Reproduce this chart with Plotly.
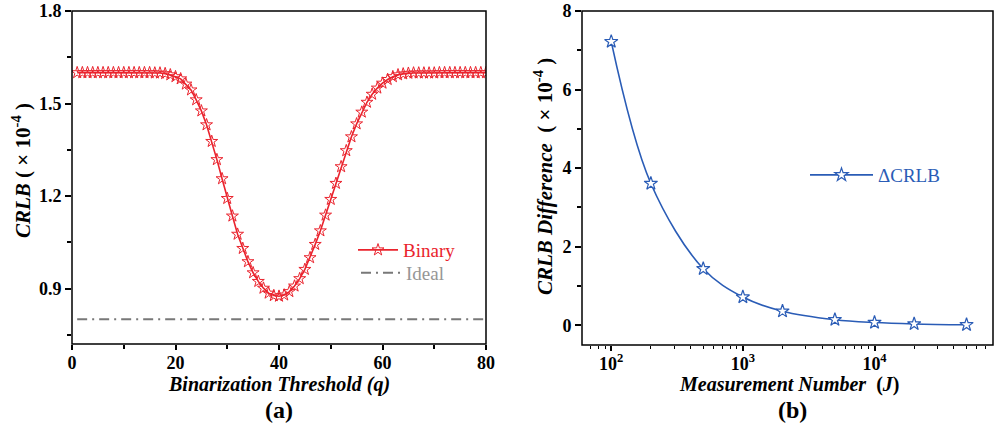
import plotly.graph_objects as go

# ---------------- data ----------------
q_vals = list(range(1, 81))
binary_crlb = (
    [1.600] * 15 + [1.599, 1.599, 1.597, 1.593, 1.587, 1.580, 1.563, 1.544, 1.512, 1.476,
                    1.431, 1.377, 1.318, 1.256, 1.192, 1.135, 1.076, 1.030, 0.987, 0.951,
                    0.923, 0.901, 0.885, 0.877, 0.875, 0.879, 0.890, 0.908, 0.932, 0.962,
                    1.000, 1.043, 1.087, 1.138, 1.189, 1.241, 1.295, 1.347, 1.392, 1.434,
                    1.472, 1.504, 1.530, 1.550, 1.566, 1.578, 1.587, 1.593, 1.596, 1.598]
    + [1.599] * 5 + [1.600] * 10
)
ideal_q = [1, 80]
ideal_crlb = [0.8, 0.8]

meas_J = [100, 200, 500, 1000, 2000, 5000, 10000, 20000, 50000]
delta_crlb = [7.22, 3.61, 1.44, 0.72, 0.36, 0.144, 0.072, 0.036, 0.0144]

left_xticks = [0, 20, 40, 60, 80]
left_xminor = [10, 30, 50, 70]
left_yticks = [0.9, 1.2, 1.5, 1.8]
left_yminor = [0.75, 1.05, 1.35, 1.65]
right_xticks = [100, 1000, 10000]
right_xticktext = ["10<sup>2</sup>", "10<sup>3</sup>", "10<sup>4</sup>"]
right_xminor = [70, 80, 90] + [m * 100 for m in range(2, 10)] + [m * 1000 for m in range(2, 10)] + [m * 10000 for m in range(2, 8)]
right_yticks = [0, 2, 4, 6, 8]
right_yminor = [1, 3, 5, 7]

# ---------------- style ----------------
W, H = 994, 427
FONT = "Liberation Serif"
RED = "rgb(234,35,45)"
BLUE = "rgb(42,92,182)"
GRAY = "rgb(120,120,120)"

def px(x):
    return x / W

def py(y):
    return 1 - y / H

fig = go.Figure()

fig.add_trace(go.Scatter(
    x=q_vals, y=binary_crlb, mode="lines+markers",
    name="<span style='color:%s'>Binary</span>" % RED,
    line=dict(color=RED, width=1.6),
    marker=dict(symbol="star-open", size=9, color=RED, line=dict(width=1, color=RED)),
    xaxis="x", yaxis="y", legend="legend",
))
fig.add_trace(go.Scatter(
    x=ideal_q, y=ideal_crlb, mode="lines",
    name="<span style='color:rgb(150,150,150)'>Ideal</span>",
    line=dict(color=GRAY, width=2, dash="10px,5px,2px,5px"),
    xaxis="x", yaxis="y", legend="legend3",
))
fig.add_trace(go.Scatter(
    x=meas_J, y=delta_crlb, mode="lines+markers",
    name="<span style='color:%s'>ΔCRLB</span>" % BLUE,
    line=dict(color=BLUE, width=1.6, shape="spline", smoothing=1.0),
    marker=dict(symbol="star", size=10, color="white", line=dict(width=1.2, color=BLUE)),
    xaxis="x2", yaxis="y2", legend="legend2",
))

tickfont = dict(family=FONT, size=18, color="black", weight="bold")
base = dict(showgrid=False, zeroline=False, showline=False,
            tickcolor="black", tickwidth=1.5, ticklen=6, tickfont=tickfont, automargin=False)

xd1 = [px(72), px(486)]
xd2 = [px(582), px(993)]
yd = [py(344), py(11)]
yd2 = [py(345), py(11)]

fig.update_layout(
    template="none",
    width=W, height=H, margin=dict(l=0, r=0, t=0, b=0, pad=0, autoexpand=False),
    paper_bgcolor="white", plot_bgcolor="white",
    font=dict(family=FONT, color="black"),
    xaxis=dict(base, domain=xd1, anchor="y", range=[0, 80], tickvals=left_xticks, ticks="outside",
               ticklen=5, ticklabelstandoff=-3,
               minor=dict(tickvals=left_xminor, ticks="outside", ticklen=4, tickcolor="black", tickwidth=1.5)),
    yaxis=dict(base, domain=yd, anchor="x", range=[0.72, 1.8], tickvals=left_yticks, ticks="outside",
               tickformat=".1f",
               minor=dict(tickvals=left_yminor, ticks="outside", ticklen=4, tickcolor="black", tickwidth=1.5)),
    xaxis3=dict(base, overlaying="x", anchor="y", side="top", range=[0, 80], tickvals=left_xticks,
                ticks="inside", showticklabels=False,
                minor=dict(tickvals=left_xminor, ticks="inside", ticklen=4, tickcolor="black", tickwidth=1.5)),
    yaxis3=dict(base, overlaying="y", anchor="x", side="right", range=[0.72, 1.8], tickvals=left_yticks,
                ticks="inside", showticklabels=False,
                minor=dict(tickvals=left_yminor, ticks="inside", ticklen=4, tickcolor="black", tickwidth=1.5)),
    xaxis2=dict(base, domain=xd2, anchor="y2", type="log", range=[1.778, 4.9], tickvals=right_xticks,
                ticktext=right_xticktext, ticks="outside", ticklen=5, ticklabelstandoff=-3,
                minor=dict(tickvals=right_xminor, ticks="outside", ticklen=3, tickcolor="black", tickwidth=1.2)),
    yaxis2=dict(base, domain=yd2, anchor="x2", range=[-0.5, 8], tickvals=right_yticks, ticks="outside",
                minor=dict(tickvals=right_yminor, ticks="outside", ticklen=4, tickcolor="black", tickwidth=1.5)),
    xaxis4=dict(base, overlaying="x2", anchor="y2", side="top", type="log", range=[1.778, 4.9],
                tickvals=right_xticks, ticks="inside", showticklabels=False,
                minor=dict(tickvals=right_xminor, ticks="inside", ticklen=3, tickcolor="black", tickwidth=1.2)),
    yaxis4=dict(base, overlaying="y2", anchor="x2", side="right", range=[-0.5, 8], tickvals=right_yticks,
                ticks="inside", showticklabels=False,
                minor=dict(tickvals=right_yminor, ticks="inside", ticklen=4, tickcolor="black", tickwidth=1.5)),
    legend=dict(x=px(353), y=py(250), xanchor="left", yanchor="middle", bgcolor="rgba(0,0,0,0)",
                font=dict(family=FONT, size=19), itemwidth=40),
    legend3=dict(x=px(356), y=py(273), xanchor="left", yanchor="middle", bgcolor="rgba(0,0,0,0)",
                 font=dict(family=FONT, size=19), itemwidth=40),
    legend2=dict(x=px(805), y=py(175), xanchor="left", yanchor="middle", bgcolor="rgba(0,0,0,0)",
                 font=dict(family=FONT, size=19), itemwidth=63),
    showlegend=True,
)

# plot frames
for xr, yr in (("x domain", "y domain"), ("x2 domain", "y2 domain")):
    fig.add_shape(type="rect", xref=xr, yref=yr, x0=0, x1=1, y0=0, y1=1,
                  line=dict(color="black", width=1.5), fillcolor="rgba(0,0,0,0)", layer="above")

ann = [
    dict(text="<b><i>Binarization Threshold (q)</i></b>", x=px(279), y=py(384), size=20),
    dict(text="<b>(a)</b>", x=px(279), y=py(410), size=24),
    dict(text="<b><i>Measurement Number</i>  (<i>J</i>)</b>", x=px(789), y=py(384), size=20),
    dict(text="<b>(b)</b>", x=px(792), y=py(410), size=24),
]
for a in ann:
    fig.add_annotation(text=a["text"], x=a["x"], y=a["y"], xref="paper", yref="paper",
                       showarrow=False, xanchor="center", yanchor="middle",
                       font=dict(family=FONT, size=a["size"], color="black"))

fig.add_annotation(text="<b><i>CRLB</i> ( × 10<sup>-4</sup> )</b>", x=px(21), y=py(171),
                   xref="paper", yref="paper", showarrow=False, textangle=-90,
                   xanchor="center", yanchor="middle", font=dict(family=FONT, size=21, color="black"))
fig.add_annotation(text="<b><i>CRLB Difference</i>  ( × 10<sup>-4</sup> )</b>", x=px(543), y=py(177),
                   xref="paper", yref="paper", showarrow=False, textangle=-90,
                   xanchor="center", yanchor="middle", font=dict(family=FONT, size=21, color="black"))

fig.write_html("out.html", config={"displayModeBar": False},
               post_script="document.body.style.margin='0px';")
